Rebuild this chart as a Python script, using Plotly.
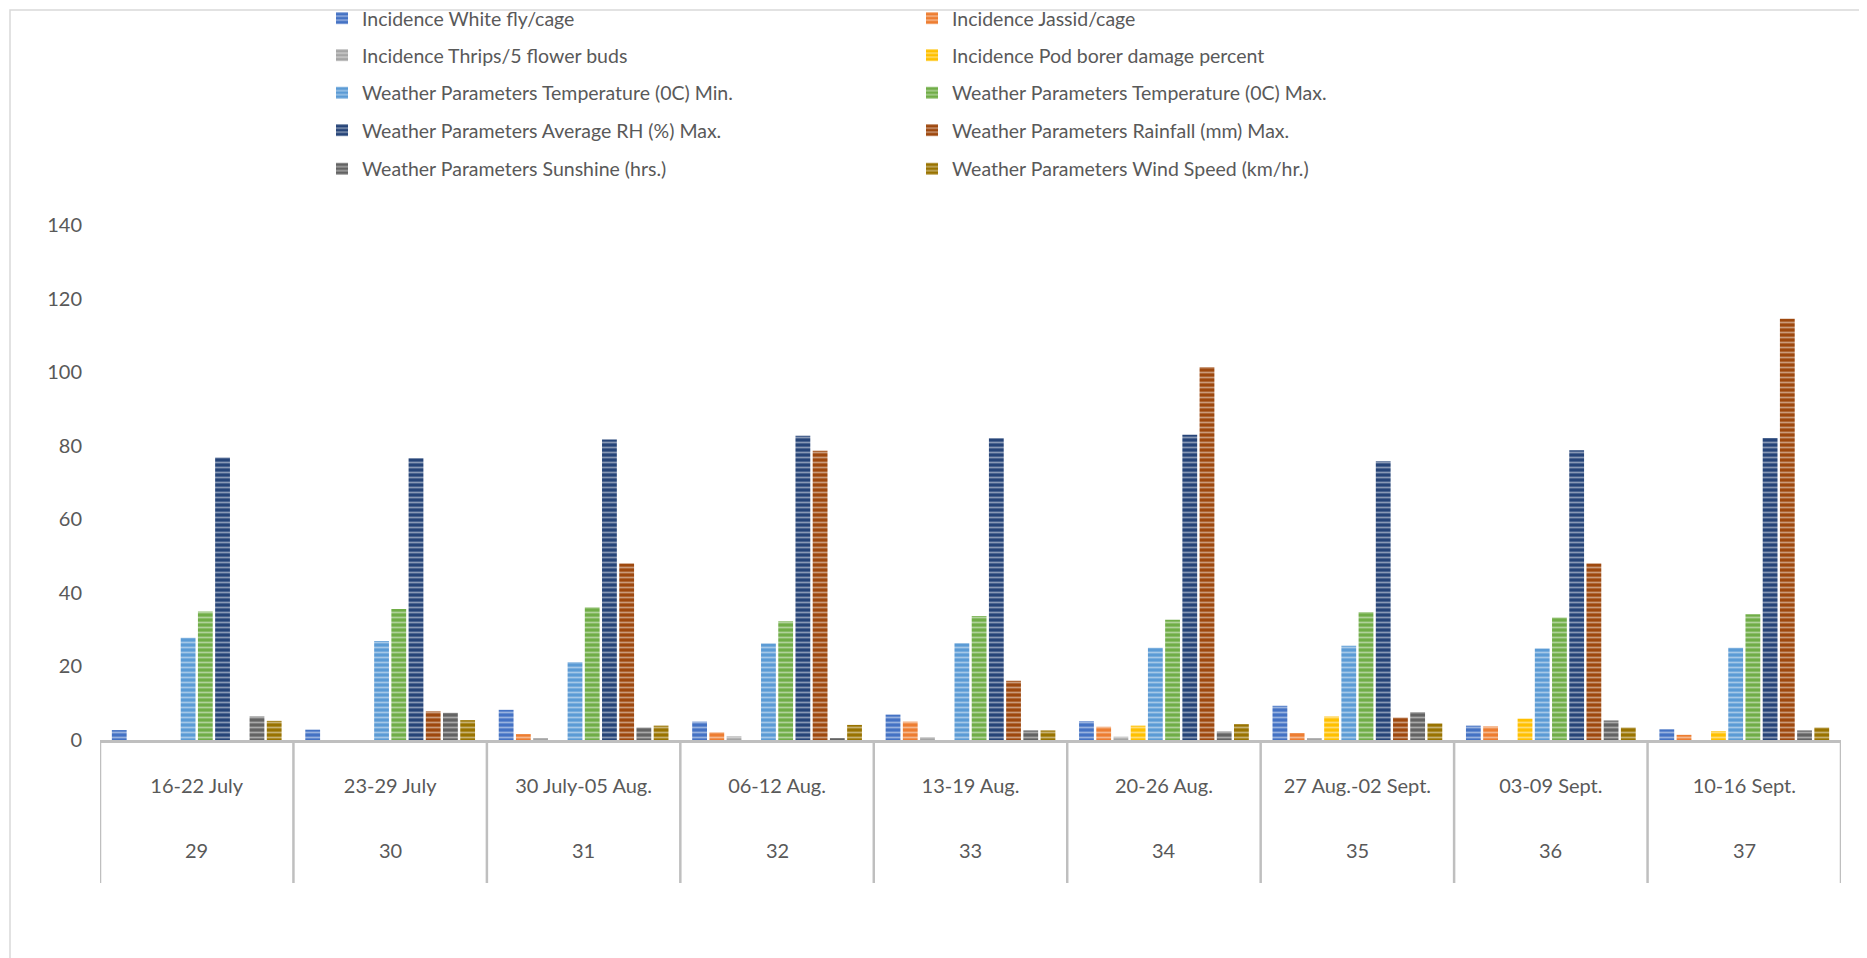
import plotly.graph_objects as go

weeks = ["29", "30", "31", "32", "33", "34", "35", "36", "37"]
dates = ["16-22 July", "23-29 July", "30 July-05 Aug.", "06-12 Aug.", "13-19 Aug.",
         "20-26 Aug.", "27 Aug.-02 Sept.", "03-09 Sept.", "10-16 Sept."]

series_names = [
    "Incidence White fly/cage",
    "Incidence Jassid/cage",
    "Incidence Thrips/5 flower buds",
    "Incidence Pod borer damage percent",
    "Weather Parameters Temperature (0C) Min.",
    "Weather Parameters Temperature (0C) Max.",
    "Weather Parameters Average RH (%) Max.",
    "Weather Parameters Rainfall (mm) Max.",
    "Weather Parameters Sunshine (hrs.)",
    "Weather Parameters Wind Speed (km/hr.)",
]

whitefly = [2.7, 2.8, 8.2, 5.0, 6.9, 5.1, 9.3, 3.9, 2.9]
jassid = [0, 0, 1.6, 2.1, 5.0, 3.6, 1.9, 3.7, 1.4]
thrips = [0, 0, 0.4, 1.0, 0.8, 0.9, 0.3, 0, 0]
pod_borer = [0, 0, 0, 0, 0, 3.9, 6.4, 5.8, 2.4]
temp_min = [27.8, 26.9, 21.2, 26.2, 26.3, 25.1, 25.6, 24.9, 25.1]
temp_max = [34.9, 35.6, 36.1, 32.3, 33.7, 32.7, 34.8, 33.3, 34.2]
rh_max = [76.8, 76.6, 81.7, 82.7, 82.0, 83.0, 75.8, 78.8, 82.1]
rainfall = [0, 7.8, 48.0, 78.6, 16.1, 101.4, 6.1, 48.0, 114.5]
sunshine = [6.4, 7.4, 3.4, 0.3, 2.6, 2.3, 7.6, 5.3, 2.6]
wind = [5.2, 5.4, 3.9, 4.1, 2.6, 4.3, 4.5, 3.4, 3.4]

values = [whitefly, jassid, thrips, pod_borer, temp_min, temp_max, rh_max, rainfall, sunshine, wind]
colors = ["#4472C4", "#ED7D31", "#A5A5A5", "#FFC000", "#5B9BD5",
          "#70AD47", "#264478", "#9E480E", "#636363", "#997300"]

W, H = 1867, 958
L, R, T, B = 92, 34, 217, 226
plot_w = W - L - R
plot_h = H - T - B
zero_px = H - B

FONT = "Lato"
TXT = "#595959"

fig = go.Figure()

row_y_px = [10.5, 47.5, 85, 122.5, 161]
col_x_px = [314, 904]

legend_layouts = {}
for i, (name, vals, col) in enumerate(zip(series_names, values, colors)):
    lname = "legend" if i == 0 else f"legend{i + 1}"
    fig.add_trace(go.Bar(
        x=dates, y=vals, name=name,
        marker=dict(color=col, line=dict(width=0),
                    pattern=dict(shape="-", fillmode="overlay", fgcolor="white",
                                 fgopacity=0.45, size=5, solidity=0.35)),
        legend=lname,
    ))
    r, c = divmod(i, 2)
    legend_layouts[lname] = dict(
        xref="container", yref="container",
        x=col_x_px[c] / W, xanchor="left",
        y=1 - row_y_px[r] / H, yanchor="middle",
        orientation="h", bgcolor="rgba(0,0,0,0)",
        font=dict(family=FONT, size=19.5, color=TXT),
    )

shapes = []
# category dividers
for k in range(len(dates) + 1):
    shapes.append(dict(type="line", xref="x", yref="paper",
                       x0=k - 0.5, x1=k - 0.5, y0=0, y1=-143 / plot_h,
                       line=dict(color="#BFBFBF", width=2.5)))
# chart border
shapes.append(dict(type="rect", xref="paper", yref="paper",
                   x0=(2 - L) / plot_w, x1=(W + 20 - L) / plot_w,
                   y0=-(H + 20 - zero_px) / plot_h, y1=(zero_px - 2) / plot_h,
                   line=dict(color="#D9D9D9", width=1.5)))

annotations = []
for k, wk in enumerate(weeks):
    annotations.append(dict(x=dates[k], y=-110 / plot_h, xref="x", yref="paper",
                            text=wk, showarrow=False, yanchor="middle",
                            font=dict(family=FONT, size=20, color=TXT)))

fig.update_layout(
    width=W, height=H,
    margin=dict(l=L, r=R, t=T, b=B),
    paper_bgcolor="white", plot_bgcolor="white",
    barmode="group", bargap=0.11, bargroupgap=0.14,
    showlegend=True,
    shapes=shapes, annotations=annotations,
    **legend_layouts,
)
fig.update_xaxes(
    type="category", range=[-0.5, len(dates) - 0.5],
    showline=True, linecolor="#BFBFBF", linewidth=2.5,
    ticks="", ticklabelstandoff=26, showgrid=False, zeroline=False,
    tickfont=dict(family=FONT, size=20, color=TXT),
)
fig.update_yaxes(
    range=[0, 140], dtick=20, showgrid=False, zeroline=False, showline=False,
    ticks="", ticklabelstandoff=17,
    tickfont=dict(family=FONT, size=20, color=TXT),
)

fig.write_html("out.html")
